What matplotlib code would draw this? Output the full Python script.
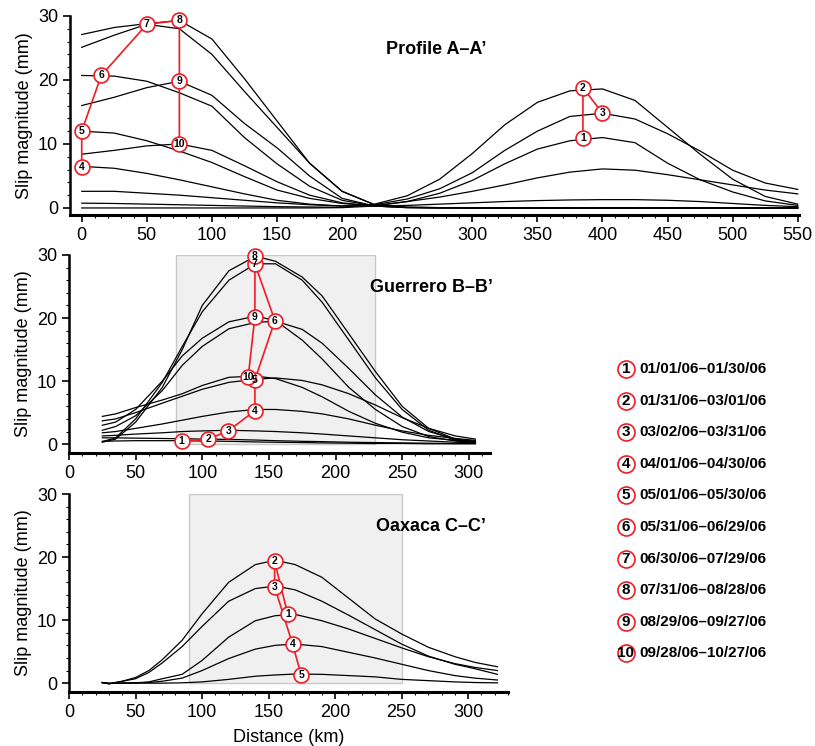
import matplotlib
matplotlib.use('Agg')
import matplotlib.pyplot as plt
from matplotlib.patches import Rectangle
from matplotlib.ticker import MultipleLocator

plt.rcParams['font.family'] = ['Liberation Sans', 'DejaVu Sans']
BOLDFONT = ['Liberation Sans', 'DejaVu Sans']

# ---- Profile A-A' ----
x_a = [0, 25, 50, 75, 100, 125, 150, 175, 200, 225, 250, 275, 300, 325, 350,
       375, 400, 425, 450, 475, 500, 525, 550]
a_curves = [
    [0, 0, 0, 0, 0, 0, 0, 0, 0.05, 0.3, 1.0, 2.3, 4.3, 6.9, 9.2, 10.5, 11.0, 10.2, 7.0, 4.4, 2.5, 1.1, 0.4],
    [0.75, 0.7, 0.6, 0.5, 0.4, 0.3, 0.2, 0.15, 0.1, 0.6, 1.9, 4.5, 8.5, 13.0, 16.5, 18.3, 18.6, 16.8, 12.6, 8.4, 4.5, 1.8, 0.6],
    [2.6, 2.6, 2.3, 2.0, 1.6, 1.2, 0.8, 0.5, 0.3, 0.5, 1.4, 3.0, 5.5, 9.0, 12.0, 14.3, 14.8, 13.9, 11.6, 8.9, 5.9, 3.9, 2.9],
    [6.5, 6.2, 5.4, 4.4, 3.3, 2.2, 1.2, 0.6, 0.3, 0.4, 1.0, 1.7, 2.6, 3.6, 4.7, 5.6, 6.1, 5.9, 5.2, 4.4, 3.6, 2.8, 2.2],
    [12.0, 11.7, 10.5, 8.9, 7.1, 4.9, 2.8, 1.5, 0.7, 0.3, 0.4, 0.6, 0.8, 1.0, 1.15, 1.25, 1.3, 1.3, 1.2, 1.0, 0.7, 0.4, 0.2],
    [20.7, 20.6, 19.8, 18.0, 15.9, 11.0, 6.9, 3.4, 1.2, 0.3, 0.1, 0.05, 0, 0, 0, 0, 0, 0, 0, 0, 0, 0, 0],
    [25.1, 27.0, 28.7, 28.0, 24.0, 18.2, 12.6, 7.0, 2.6, 0.5, 0.1, 0.05, 0, 0, 0, 0, 0, 0, 0, 0, 0, 0, 0],
    [27.1, 28.2, 28.8, 29.3, 26.4, 20.2, 13.6, 7.0, 2.6, 0.5, 0.1, 0.05, 0, 0, 0, 0, 0, 0, 0, 0, 0, 0, 0],
    [16.0, 17.3, 18.8, 19.8, 17.6, 13.2, 9.4, 5.0, 1.5, 0.3, 0.05, 0, 0, 0, 0, 0, 0, 0, 0, 0, 0, 0, 0],
    [8.4, 9.0, 9.7, 10.0, 9.0, 6.6, 4.1, 2.0, 0.8, 0.3, 0.05, 0, 0, 0, 0, 0, 0, 0, 0, 0, 0, 0, 0],
]
a_mk_x = [385, 385, 400, 0, 0, 15, 50, 75, 75, 75]
a_mk_y = [10.9, 18.8, 14.8, 6.4, 12.0, 20.7, 28.7, 29.3, 19.8, 10.0]
a_paths = [[1, 2, 3], [4, 5, 6, 7, 8, 9, 10]]

# ---- Guerrero B-B' ----
x_b = [25, 35, 50, 70, 85, 100, 120, 140, 155, 175, 190, 210, 230, 250, 270, 290, 305]
b_curves = [
    [0.45, 0.5, 0.55, 0.55, 0.55, 0.5, 0.45, 0.35, 0.3, 0.25, 0.2, 0.15, 0.1, 0.1, 0.05, 0.05, 0.05],
    [1.0, 1.0, 0.95, 0.9, 0.85, 0.8, 0.75, 0.65, 0.55, 0.45, 0.4, 0.3, 0.25, 0.2, 0.15, 0.1, 0.1],
    [1.3, 1.4, 1.6, 1.8, 2.0, 2.1, 2.2, 2.1, 2.0, 1.8, 1.6, 1.3, 1.0, 0.7, 0.5, 0.3, 0.2],
    [1.8, 2.0, 2.5, 3.2, 3.8, 4.4, 5.1, 5.5, 5.5, 5.2, 4.8, 4.0, 3.0, 2.1, 1.4, 0.9, 0.6],
    [3.7, 4.0, 5.0, 6.5, 7.6, 8.7, 9.8, 10.3, 10.5, 10.1, 9.4, 8.0, 6.2, 4.2, 2.5, 1.3, 0.8],
    [2.2, 2.8, 4.5, 8.5, 12.5, 15.5, 18.3, 19.3, 19.5, 18.2, 16.0, 12.0, 7.8, 4.3, 2.0, 0.8, 0.4],
    [0.4, 1.0, 4.0, 9.8, 15.5, 21.0, 26.0, 28.6, 28.6, 26.0, 22.5, 16.5, 10.5, 5.5, 2.2, 0.6, 0.2],
    [0.3, 0.8, 3.5, 9.0, 15.0, 22.0, 27.5, 29.8, 29.0, 26.5, 23.5, 17.5, 11.5, 6.0, 2.5, 0.8, 0.3],
    [3.0, 3.5, 5.5, 10.0, 14.0, 16.8, 19.4, 20.3, 19.6, 16.5, 13.5, 9.0, 5.5, 2.8, 1.2, 0.5, 0.2],
    [4.4, 4.8, 5.8, 7.0, 8.0, 9.3, 10.6, 10.8, 10.4, 9.0, 7.5, 5.2, 3.3, 1.9, 1.0, 0.6, 0.5],
]
b_mk_x = [84.5, 104.5, 119.5, 139.5, 139.5, 154.5, 139.5, 139.5, 139.5, 134.5]
b_mk_y = [0.42, 0.8, 2.1, 5.3, 10.2, 19.6, 28.6, 29.9, 20.2, 10.7]
b_paths = [[1, 2, 3, 4, 5, 6, 7, 8, 9, 10]]
b_shade = [80, 230]

# ---- Oaxaca C-C' ----
x_c = [25, 30, 40, 50, 60, 70, 85, 100, 120, 140, 155, 170, 190, 210, 230, 250, 270, 290, 305, 322]
c_curves = [
    [0.1, -0.05, 0.0, 0.05, 0.2, 0.7, 1.4, 3.6, 7.3, 9.9, 10.7, 10.9, 9.9, 8.6, 7.1, 5.6, 4.2, 3.1, 2.5, 2.0],
    [0.1, -0.1, 0.3, 0.9, 2.0, 3.7, 6.8, 11.0, 16.0, 18.8, 19.5, 18.8, 16.8, 13.5, 10.2, 7.8, 5.7, 4.2, 3.3, 2.6],
    [0.1, -0.1, 0.3, 0.7, 1.7, 3.2, 5.8, 9.0, 13.0, 15.0, 15.4, 14.8, 13.0, 10.8, 8.5, 6.2, 4.3, 3.0, 2.3, 1.4],
    [0.1, -0.05, 0.0, 0.05, 0.1, 0.3, 0.8, 2.0, 3.9, 5.4, 6.0, 6.2, 5.8, 4.9, 4.0, 3.0, 2.0, 1.2, 0.8, 0.5],
    [0.05, 0.0, 0.0, 0.0, 0.0, 0.0, 0.05, 0.2, 0.6, 1.1, 1.3, 1.45, 1.4, 1.2, 1.0, 0.6, 0.4, 0.2, 0.1, 0.05],
]
c_mk_x = [164.5, 154.5, 154.5, 168, 174.5]
c_mk_y = [10.9, 19.3, 15.3, 6.2, 1.3]
c_paths = [[1, 2, 3, 4, 5]]
c_shade = [90, 250]

legend_labels = ['01/01/06\u201301/30/06', '01/31/06\u201303/01/06', '03/02/06\u201303/31/06',
                 '04/01/06\u201304/30/06', '05/01/06\u201305/30/06', '05/31/06\u201306/29/06',
                 '06/30/06\u201307/29/06', '07/31/06\u201308/28/06', '08/29/06\u201309/27/06',
                 '09/28/06\u201310/27/06']

RED = '#ee1c24'

fig = plt.figure(figsize=(8.15, 7.46), dpi=100)
ax_a = fig.add_axes([0.0859, 0.7118, 0.8945, 0.2668])
ax_b = fig.add_axes([0.0847, 0.3928, 0.5166, 0.2654])
ax_c = fig.add_axes([0.0847, 0.0724, 0.5387, 0.2654])


def panel(ax, x, curves, mk_x, mk_y, paths, title, xlim, ylim, shade=None):
    if shade is not None:
        ax.add_patch(Rectangle((shade[0], 0), shade[1] - shade[0], 30,
                               facecolor='#f0f0f0', edgecolor='#c8c8c8', lw=1.0, zorder=0))
    for c in curves:
        ax.plot(x, c, color='black', lw=0.9, zorder=2)
    for p in paths:
        ax.plot([mk_x[i - 1] for i in p], [mk_y[i - 1] for i in p], color=RED, lw=1.2, zorder=3)
    ax.scatter(mk_x, mk_y, s=115, facecolor='white', edgecolor=RED, lw=1.2, zorder=4, clip_on=False)
    for i, (mx, my) in enumerate(zip(mk_x, mk_y)):
        ax.text(mx, my, str(i + 1), ha='center', va='center', fontsize=7.5, fontweight='bold',
                family=BOLDFONT, zorder=5)
    ax.text(272, 24.8, title, ha='center', va='center', fontsize=13, fontweight='bold', family=BOLDFONT)
    ax.set_xlim(*xlim)
    ax.set_ylim(*ylim)
    ax.spines['top'].set_visible(False)
    ax.spines['right'].set_visible(False)
    ax.spines['left'].set_linewidth(1.8)
    ax.spines['bottom'].set_linewidth(2.2)
    ax.spines['left'].set_bounds(ylim[0], 30)
    ax.xaxis.set_major_locator(MultipleLocator(50))
    ax.xaxis.set_minor_locator(MultipleLocator(10))
    ax.yaxis.set_major_locator(MultipleLocator(10))
    ax.yaxis.set_minor_locator(MultipleLocator(2))
    ax.tick_params(which='major', direction='out', length=5, width=1.2, labelsize=13)
    ax.tick_params(which='minor', direction='out', length=2.5, width=0.8)
    ax.set_ylabel('Slip magnitude (mm)', fontsize=13, labelpad=4)


panel(ax_a, x_a, a_curves, a_mk_x, a_mk_y, a_paths, 'Profile A\u2013A\u2019', (-9, 551), (-1.1, 30))
panel(ax_b, x_b, b_curves, b_mk_x, b_mk_y, b_paths, 'Guerrero B\u2013B\u2019', (0, 316), (-1.4, 30), b_shade)
panel(ax_c, x_c, c_curves, c_mk_x, c_mk_y, c_paths, 'Oaxaca C\u2013C\u2019', (0, 330), (-1.4, 30), c_shade)
ax_c.set_xlabel('Distance (km)', fontsize=13, labelpad=6)

# legend drawn in pixel space
ax_l = fig.add_axes([0, 0, 1, 1])
ax_l.set_xlim(0, 815)
ax_l.set_ylim(746, 0)
ax_l.axis('off')
for i, lab in enumerate(legend_labels):
    yy = 369 + i * 31.6
    ax_l.scatter([626], [yy], s=150, facecolor='white', edgecolor=RED, lw=1.2, zorder=2)
    ax_l.text(626, yy, str(i + 1), ha='center', va='center', fontsize=11, fontweight='bold',
              family=BOLDFONT, zorder=3)
    ax_l.text(639, yy, lab, ha='left', va='center', fontsize=11, fontweight='bold', family=BOLDFONT)

fig.savefig('out.png', dpi=100)
